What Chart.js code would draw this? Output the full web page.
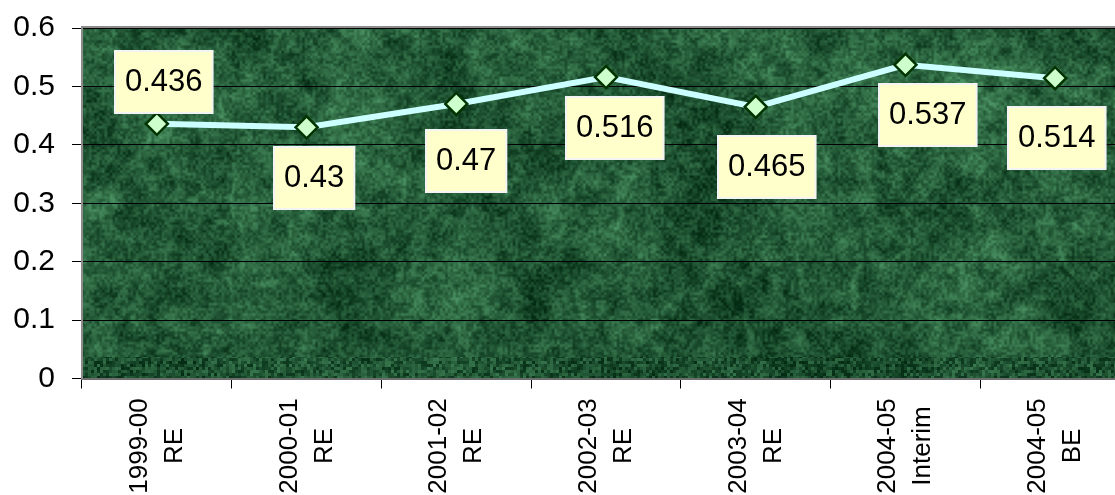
<!DOCTYPE html>
<html>
<head>
<meta charset="utf-8">
<script src="https://cdn.jsdelivr.net/npm/chart.js@4/dist/chart.umd.min.js"></script>
<style>
  html, body { margin: 0; padding: 0; background: #ffffff; overflow: hidden; }
  #wrap { width: 1115px; height: 495px; overflow: hidden; position: relative; }
  canvas { display: block; }
</style>
</head>
<body>
<div id="wrap"><canvas id="chart" width="1135" height="495"></canvas></div>
<script>
// Fiscal years (two-line category labels)
const categories = [
  ['1999-00', 'RE'],
  ['2000-01', 'RE'],
  ['2001-02', 'RE'],
  ['2002-03', 'RE'],
  ['2003-04', 'RE'],
  ['2004-05', 'Interim'],
  ['2004-05', 'BE']
];
// Series values
const values = [0.436, 0.43, 0.47, 0.516, 0.465, 0.537, 0.514];
// Value-axis tick labels
const yTickLabels = ['0', '0.1', '0.2', '0.3', '0.4', '0.5', '0.6'];

const FONT = "'Liberation Sans', Arial, sans-serif";

// ---- green marble texture for the plot area ----
function hash2(ix, iy, seed) {
  let h = Math.imul(ix, 374761393) ^ Math.imul(iy, 668265263) ^ Math.imul(seed, 982451653);
  h = Math.imul(h ^ (h >>> 13), 1274126177);
  h = h ^ (h >>> 16);
  return (h >>> 0) / 4294967295;
}
function smooth(t) { return t * t * (3 - 2 * t); }
function vnoise(x, y, seed) {
  const ix = Math.floor(x), iy = Math.floor(y);
  const fx = smooth(x - ix), fy = smooth(y - iy);
  const a = hash2(ix, iy, seed), b = hash2(ix + 1, iy, seed);
  const c = hash2(ix, iy + 1, seed), d = hash2(ix + 1, iy + 1, seed);
  return a + (b - a) * fx + (c - a) * fy + (a - b - c + d) * fx * fy;
}
function fbm(x, y, seed, oct) {
  let s = 0, amp = 0.5, norm = 0, f = 1;
  for (let o = 0; o < oct; o++) {
    s += amp * vnoise(x * f, y * f, seed + o * 17);
    norm += amp; amp *= 0.5; f *= 2.03;
  }
  return s / norm;
}
function makeMarble(w, h) {
  const c = document.createElement('canvas');
  c.width = w; c.height = h;
  const g = c.getContext('2d');
  const img = g.createImageData(w, h);
  const dark = [4, 44, 20], light = [105, 190, 132];
  for (let y = 0; y < h; y++) {
    for (let x = 0; x < w; x++) {
      const big = fbm(x / 90, y / 90, 1, 3);
      const mid = fbm(x / 14, y / 14, 5, 2);
      const fine = vnoise(x / 2.6, y / 2.6, 11);
      const n3 = fbm(x / 55 + big, y / 55, 9, 3);
      const vein = Math.max(0, 1 - Math.abs(n3 - 0.5) * 14);
      let b = 0.29 + 0.38 * (big - 0.5) + 0.35 * (mid - 0.5) + 0.34 * (fine - 0.5) + 0.12 * vein;
      if (y > h - 23) {
        b = 0.27 + 0.25 * (big - 0.5) + 0.45 * (hash2((x / 3) | 0, (y / 3) | 0, 7) - 0.5);
      }
      b = Math.max(0, Math.min(1, b));
      const i = (y * w + x) * 4;
      img.data[i] = dark[0] + (light[0] - dark[0]) * b;
      img.data[i + 1] = dark[1] + (light[1] - dark[1]) * b;
      img.data[i + 2] = dark[2] + (light[2] - dark[2]) * b;
      img.data[i + 3] = 255;
    }
  }
  g.putImageData(img, 0, 0);
  return c;
}

let marble = null;
const plotBackground = {
  id: 'plotBackground',
  beforeDraw(chart) {
    const a = chart.chartArea;
    const w = Math.ceil(a.right - a.left), h = Math.ceil(a.bottom - a.top);
    if (!marble || marble.width !== w || marble.height !== h) marble = makeMarble(w, h);
    chart.ctx.drawImage(marble, a.left, a.top);
  },
  afterDraw(chart) {
    const a = chart.chartArea, ctx = chart.ctx;
    ctx.save();
    ctx.strokeStyle = '#8c8c8c';
    ctx.lineWidth = 2;
    ctx.beginPath();
    ctx.moveTo(a.left - 1, a.top - 1);
    ctx.lineTo(a.right + 2, a.top - 1);
    ctx.stroke();
    ctx.restore();
  }
};

// Boxed value labels next to each point
const valueBoxes = {
  id: 'valueBoxes',
  afterDatasetsDraw(chart, args, opts) {
    const ctx = chart.ctx;
    const meta = chart.getDatasetMeta(0);
    const data = chart.data.datasets[0].data;
    ctx.save();
    ctx.font = opts.font;
    meta.data.forEach((pt, i) => {
      const txt = String(data[i]);
      const off = opts.offsets[i];
      const tw = ctx.measureText(txt).width;
      const bw = tw + 2 * opts.padX, bh = opts.height;
      const cx = pt.x + off[0], cy = pt.y + off[1];
      const left = Math.round(cx - bw / 2), top = Math.round(cy - bh / 2);
      ctx.fillStyle = opts.fill;
      ctx.fillRect(left, top, bw, bh);
      ctx.strokeStyle = opts.border;
      ctx.lineWidth = 2;
      ctx.strokeRect(left, top, bw, bh);
      ctx.fillStyle = '#000000';
      ctx.textAlign = 'center';
      ctx.textBaseline = 'alphabetic';
      ctx.fillText(txt, left + bw / 2, top + 40);
    });
    ctx.restore();
  }
};

// Vertical two-line category labels, centred along their length
const rotatedCategoryLabels = {
  id: 'rotatedCategoryLabels',
  afterDraw(chart, args, opts) {
    const ctx = chart.ctx;
    const xs = chart.scales.x;
    ctx.save();
    ctx.font = opts.font;
    ctx.fillStyle = '#000000';
    ctx.textAlign = 'center';
    ctx.textBaseline = 'alphabetic';
    categories.forEach((lines, i) => {
      const x = xs.getPixelForValue(i);
      ctx.save();
      ctx.translate(x, opts.centerY);
      ctx.rotate(-Math.PI / 2);
      lines.forEach((ln, k) => {
        ctx.fillText(ln, 0, opts.firstBaseline + k * opts.lineGap);
      });
      ctx.restore();
    });
    ctx.restore();
  }
};

new Chart(document.getElementById('chart'), {
  type: 'line',
  data: {
    labels: categories,
    datasets: [{
      data: values,
      borderColor: '#ccffff',
      borderWidth: 6,
      tension: 0,
      fill: false,
      pointStyle: 'rectRot',
      pointRadius: 11,
      pointHoverRadius: 11,
      pointBackgroundColor: '#ccffcc',
      pointBorderColor: '#003300',
      pointBorderWidth: 2.5
    }]
  },
  options: {
    responsive: false,
    animation: false,
    devicePixelRatio: 1,
    layout: { autoPadding: false, padding: { top: 28, right: 5, left: 0, bottom: 0 } },
    plugins: {
      legend: { display: false },
      tooltip: { enabled: false },
      valueBoxes: {
        font: '31px ' + FONT,
        fill: '#ffffcc',
        border: '#f4f4f4',
        padX: 10,
        height: 62,
        offsets: [[7, -42], [8, 51], [10, 57], [9, 51], [11, 60], [22, 50], [2, 60]]
      },
      rotatedCategoryLabels: {
        font: '26px ' + FONT,
        centerY: 446,
        firstBaseline: -10,
        lineGap: 35
      }
    },
    scales: {
      x: {
        type: 'category',
        offset: true,
        grid: {
          offset: true,
          drawOnChartArea: false,
          drawTicks: true,
          tickLength: 10,
          color: '#000000',
          lineWidth: 1
        },
        border: { color: '#6e6e6e', width: 2 },
        ticks: { display: false },
        afterFit(s) { s.height = 116.5; s.paddingLeft = 0; s.paddingRight = 0; }
      },
      y: {
        min: 0,
        max: 0.6,
        ticks: {
          stepSize: 0.1,
          color: '#000000',
          font: { family: FONT, size: 30 },
          padding: 17,
          callback: (v, i) => yTickLabels[i]
        },
        grid: {
          color: '#000000',
          lineWidth: 1,
          drawTicks: true,
          tickLength: 10
        },
        border: { color: '#8c8c8c', width: 2 },
        afterFit(s) { s.width = 82; s.paddingTop = 0; s.paddingBottom = 0; }
      }
    }
  },
  plugins: [plotBackground, valueBoxes, rotatedCategoryLabels]
});
</script>
</body>
</html>
